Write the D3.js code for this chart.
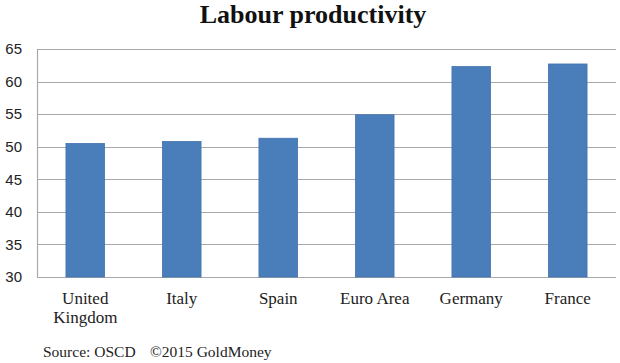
<!DOCTYPE html>
<html>
<head>
<meta charset="utf-8">
<script src="https://cdn.jsdelivr.net/npm/d3@7"></script>
<style>
  html, body { margin: 0; padding: 0; background: #fff; }
  svg { display: block; }
</style>
</head>
<body>
<svg id="chart" width="620" height="363"></svg>
<script>
/* Labour productivity bar chart */

const countries = ["United Kingdom", "Italy", "Spain", "Euro Area", "Germany", "France"];
const productivity = [50.5, 50.8, 51.3, 54.9, 62.3, 62.7];
const yTicks = [30, 35, 40, 45, 50, 55, 60, 65];

const W = 620, H = 363;
const m = { top: 49, right: 4, bottom: 86, left: 37 };
const serif = "'Liberation Serif', 'Times New Roman', serif";

const svg = d3.select("#chart");

const x = d3.scaleBand()
  .domain(countries)
  .range([m.left, W - m.right])
  .paddingInner(0.6)
  .paddingOuter(0.3);

const y = d3.scaleLinear()
  .domain([30, 65])
  .range([H - m.bottom, m.top]);

// Gridlines
svg.append("g")
  .selectAll("line")
  .data(yTicks)
  .join("line")
    .attr("x1", m.left)
    .attr("x2", W - m.right)
    .attr("y1", d => Math.round(y(d)) + 0.5)
    .attr("y2", d => Math.round(y(d)) + 0.5)
    .attr("stroke", "#a9a9a9")
    .attr("stroke-width", 1.2);

// Y labels
svg.append("g")
  .selectAll("text")
  .data(yTicks)
  .join("text")
    .attr("x", 22)
    .attr("y", d => y(d))
    .attr("dy", "0.35em")
    .attr("text-anchor", "end")
    .attr("font-family", "'Liberation Sans', Arial, sans-serif")
    .attr("font-size", 15)
    .attr("fill", "#222")
    .text(d => d);

// Bars
svg.append("g")
  .selectAll("rect")
  .data(countries)
  .join("rect")
    .attr("x", d => x(d))
    .attr("width", x.bandwidth())
    .attr("y", (d, i) => y(productivity[i]))
    .attr("height", (d, i) => y(30) - y(productivity[i]))
    .attr("fill", "#4a7ebb")
    .attr("stroke", "#4272b0")
    .attr("stroke-width", 0.8);

// Left axis line
svg.append("line")
  .attr("x1", m.left + 0.5).attr("x2", m.left + 0.5)
  .attr("y1", y(65)).attr("y2", y(30))
  .attr("stroke", "#a9a9a9")
  .attr("stroke-width", 1.2);

// X labels (wrap to two lines where needed)
const xl = svg.append("g")
  .selectAll("text")
  .data(countries)
  .join("text")
    .attr("x", d => x(d) + x.bandwidth() / 2)
    .attr("y", 304)
    .attr("text-anchor", "middle")
    .style("font-family", serif)
    .style("font-size", "17px")
    .attr("fill", "#222");

xl.each(function(d) {
  const t = d3.select(this);
  const parts = d === "United Kingdom" ? ["United", "Kingdom"] : [d];
  parts.forEach((p, i) => {
    t.append("tspan")
      .attr("x", x(d) + x.bandwidth() / 2)
      .attr("dy", i === 0 ? 0 : 19)
      .style("font-family", serif)
      .text(p);
  });
});

// Title
svg.append("text")
  .attr("x", 313)
  .attr("y", 23)
  .attr("text-anchor", "middle")
  .style("font-family", serif)
  .attr("font-weight", "bold")
  .attr("font-size", 26)
  .attr("fill", "#111")
  .text("Labour productivity");

// Source
svg.append("text")
  .attr("x", 43)
  .attr("y", 357)
  .style("font-family", serif)
  .attr("font-size", 15.5)
  .attr("fill", "#222")
  .text("Source: OSCD");

svg.append("text")
  .attr("x", 150)
  .attr("y", 357)
  .style("font-family", serif)
  .attr("font-size", 15.5)
  .attr("fill", "#222")
  .text("©2015 GoldMoney");
</script>
</body>
</html>
